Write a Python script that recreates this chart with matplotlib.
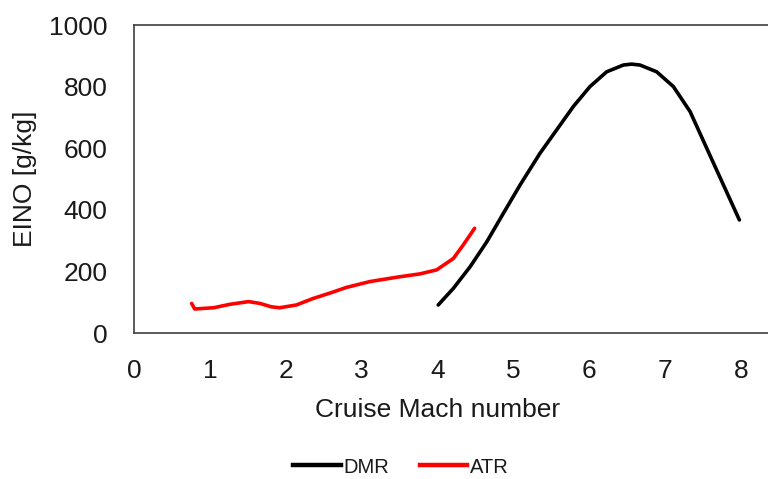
import matplotlib.pyplot as plt
from matplotlib.lines import Line2D

plt.rcParams['font.family'] = ['Liberation Sans', 'DejaVu Sans']

# values
dmr_mach = [4.01, 4.21, 4.43, 4.65, 4.87, 5.09, 5.35, 5.57, 5.79, 6.01, 6.23, 6.45, 6.56,
            6.67, 6.89, 7.11, 7.33, 7.54, 7.76, 7.98]
dmr_eino = [91, 145, 215, 296, 389, 481, 583, 659, 735, 800, 848, 870, 873,
            870, 848, 800, 719, 605, 486, 367]

atr_mach = [0.76, 0.80, 1.05, 1.26, 1.51, 1.66, 1.81, 1.92, 2.14, 2.36, 2.60, 2.80, 3.11,
            3.46, 3.77, 3.99, 4.21, 4.34, 4.49]
atr_eino = [96, 78, 82, 93, 102, 96, 85, 82, 91, 112, 131, 148, 167,
            181, 192, 205, 242, 286, 340]

x_ticks = [0, 1, 2, 3, 4, 5, 6, 7, 8]
y_ticks = [0, 200, 400, 600, 800, 1000]

text_color = '#1a1a1a'
spine_color = '#404040'

fig = plt.figure(figsize=(7.68, 4.79), dpi=100)
# plot area runs off the right edge of the picture, like the cropped original
ax = fig.add_axes([0.1745, 0.3048, 0.889, 0.643])

ax.plot(dmr_mach, dmr_eino, color='black', linewidth=2.6, solid_capstyle='round', solid_joinstyle='round')
ax.plot(atr_mach, atr_eino, color='#ff0000', linewidth=2.6, solid_capstyle='round', solid_joinstyle='round')

ax.set_xlim(0, 9)
ax.set_ylim(0, 1000)
ax.set_xticks(x_ticks)
ax.set_yticks(y_ticks)
ax.tick_params(axis='both', length=0, labelsize=19, colors=text_color)
ax.tick_params(axis='x', pad=19)
ax.tick_params(axis='y', pad=19)

for side in ['left', 'top', 'bottom', 'right']:
    ax.spines[side].set_color(spine_color)
    ax.spines[side].set_linewidth(1.2)

ax.set_xlabel('Cruise Mach number', fontsize=19, color=text_color)
ax.set_ylabel('EINO [g/kg]', fontsize=19, color=text_color)
ax.xaxis.set_label_coords(4 / 9, -0.21)
ax.yaxis.set_label_coords(-0.142, 0.5)

handles = [Line2D([], [], color='black', linewidth=3.2),
           Line2D([], [], color='#ff0000', linewidth=3.2)]
fig.legend(handles, ['DMR', 'ATR'], loc='center', bbox_to_anchor=(0.522, 0.025),
           ncol=2, frameon=False, fontsize=14.5, handlelength=2.35,
           handletextpad=0.15, columnspacing=1.5, labelcolor=text_color)

fig.savefig('out.png', dpi=100)
